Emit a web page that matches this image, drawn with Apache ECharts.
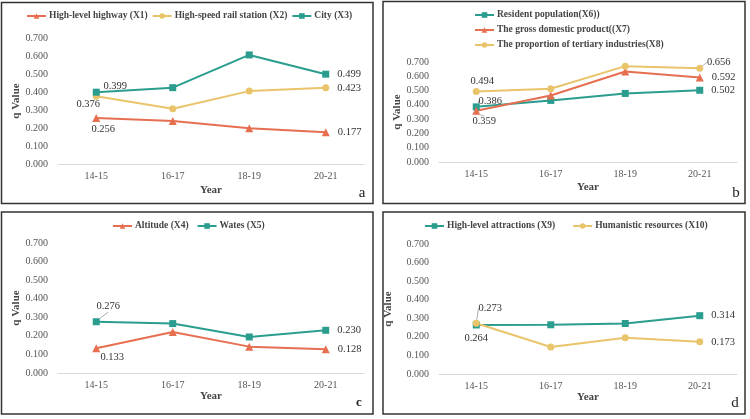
<!DOCTYPE html>
<html><head><meta charset="utf-8">
<script src="https://cdn.jsdelivr.net/npm/echarts@6/dist/echarts.min.js"></script>
<style>html,body{margin:0;padding:0;background:#fff}#c{width:750px;height:419px}</style>
</head><body><div id="c"></div>
<script>
const years = ['14-15','16-17','18-19','20-21'];
const yTicks = [0, 0.1, 0.2, 0.3, 0.4, 0.5, 0.6, 0.7];
// panel a
const x1 = [0.256, 0.239, 0.198, 0.177];
const x2 = [0.376, 0.307, 0.405, 0.423];
const x3 = [0.399, 0.424, 0.606, 0.499];
// panel b
const x6 = [0.386, 0.431, 0.480, 0.502];
const x7 = [0.359, 0.466, 0.634, 0.592];
const x8 = [0.494, 0.513, 0.671, 0.656];
// panel c
const x4 = [0.133, 0.221, 0.142, 0.128];
const x5 = [0.276, 0.266, 0.194, 0.230];
// panel d
const x9 = [0.264, 0.265, 0.272, 0.314];
const x10 = [0.273, 0.145, 0.195, 0.173];

const RED = '#E76F51', YEL = '#E9C46A', TEAL = '#2A9D8F';
const FONT = 'Liberation Serif';

const grids = [
  {left: 58, width: 306, top: 38, height: 126},
  {left: 439, width: 298, top: 62, height: 100},
  {left: 58, width: 306, top: 243, height: 130},
  {left: 439, width: 298, top: 244, height: 130}
];
const xNameGap = [21, 20, 18, 18];
const yNameGap = [34, 32, 34, 45];

function mkSeries(name, data, color, symbol, gi, firstOff, leader) {
  return {
    type: 'line', name, xAxisIndex: gi, yAxisIndex: gi,
    symbol, symbolSize: symbol === 'triangle' ? 8 : 7,
    lineStyle: {color, width: 2}, itemStyle: {color},
    data: data.map((v, i) => {
      const o = {value: v};
      if (i === 0) {
        o.label = {show: true, position: 'inside', offset: [0,0]};
        o.labelLine = {show: !!leader};
      } else if (i === data.length - 1) {
        o.label = {show: true, position: 'right', distance: 8};
      }
      return o;
    }),
    label: {show: false, formatter: p => p.value.toFixed(3), color: '#333', fontFamily: FONT, fontSize: 10.5},
    labelLine: {show: false, lineStyle: {color: '#999', width: 0.8}},
    labelLayout: p => (p.dataIndex === 0 ? {dx: firstOff[0], dy: firstOff[1]} : {}),
    z: 3
  };
}

const series = [
  mkSeries('High-level highway (X1)', x1, RED, 'triangle', 0, [7, 11]),
  mkSeries('High-speed rail station (X2)', x2, YEL, 'circle', 0, [-8, 8]),
  mkSeries('City (X3)', x3, TEAL, 'rect', 0, [19, -6]),
  mkSeries('Resident population(X6))', x6, TEAL, 'rect', 1, [14, -6], true),
  mkSeries('The gross domestic product((X7)', x7, RED, 'triangle', 1, [8, 11], true),
  mkSeries('The proportion of tertiary industries(X8)', x8, YEL, 'circle', 1, [6, -10]),
  mkSeries('Altitude (X4)', x4, RED, 'triangle', 2, [16, 9]),
  mkSeries('Wates (X5)', x5, TEAL, 'rect', 2, [12, -15], true),
  mkSeries('High-level attractions (X9)', x9, TEAL, 'rect', 3, [0, 13]),
  mkSeries('Humanistic resources (X10)', x10, YEL, 'circle', 3, [14, -15], true)
];
// special: 0.656 leader in b
series[5].data[3].label = {show: true, position: 'inside'};
series[5].data[3].labelLine = {show: true};
series[5].labelLayout = p => (p.dataIndex === 0 ? {dx: 6, dy: -10} : p.dataIndex === 3 ? {dx: 19, dy: -6} : {});

const legendText = {fontFamily: FONT, fontWeight: 'bold', fontSize: 9.5, color: '#444', padding: [0, 0, 0, -2]};
const legends = [
  {data: ['High-level highway (X1)','High-speed rail station (X2)','City (X3)'], left: 26, top: 11, itemGap: 4},
  {data: ['Resident population(X6))','The gross domestic product((X7)','The proportion of tertiary industries(X8)'], left: 474, top: 10, orient: 'vertical', itemGap: 5},
  {data: ['Altitude (X4)','Wates (X5)'], left: 112, top: 221, itemGap: 8},
  {data: ['High-level attractions (X9)','Humanistic resources (X10)'], left: 424, top: 221, itemGap: 17}
].map(l => Object.assign({itemWidth: 19, itemHeight: 7, textStyle: legendText, padding: 0}, l));

const option = {
  animation: false,
  backgroundColor: '#fff',
  grid: grids,
  legend: legends,
  xAxis: grids.map((g, i) => ({
    type: 'category', gridIndex: i, data: years, boundaryGap: true,
    name: 'Year', nameLocation: 'middle', nameGap: xNameGap[i],
    nameTextStyle: {fontFamily: FONT, fontWeight: 'bold', fontSize: 11, color: '#444'},
    axisLine: {lineStyle: {color: '#d9d9d9'}}, axisTick: {show: false},
    axisLabel: {fontFamily: FONT, fontSize: 10, color: '#555', margin: 7}
  })),
  yAxis: grids.map((g, i) => ({
    type: 'value', gridIndex: i, min: yTicks[0], max: yTicks[yTicks.length-1], interval: 0.1,
    name: 'q Value', nameLocation: 'middle', nameGap: yNameGap[i], nameRotate: 90,
    nameTextStyle: {fontFamily: FONT, fontWeight: 'bold', fontSize: 11, color: '#444'},
    axisLine: {show: false}, axisTick: {show: false}, splitLine: {show: false},
    axisLabel: {fontFamily: FONT, fontSize: 10, color: '#555', margin: 10, formatter: v => v.toFixed(3)}
  })),
  series,
  graphic: [
    {type: 'rect', shape: {x: 1.5, y: 2.5, width: 371.5, height: 201}, style: {fill: 'none', stroke: '#333', lineWidth: 1.5}},
    {type: 'rect', shape: {x: 383, y: 1.5, width: 362, height: 202}, style: {fill: 'none', stroke: '#333', lineWidth: 1.5}},
    {type: 'rect', shape: {x: 1.5, y: 212, width: 371.5, height: 202}, style: {fill: 'none', stroke: '#333', lineWidth: 1.5}},
    {type: 'rect', shape: {x: 383, y: 212, width: 362, height: 202}, style: {fill: 'none', stroke: '#333', lineWidth: 1.5}},
    {type: 'text', x: 362, y: 193, style: {text: 'a', font: '15px "Liberation Serif"', fill: '#222', align: 'center', verticalAlign: 'middle'}},
    {type: 'text', x: 736, y: 193, style: {text: 'b', font: '15px "Liberation Serif"', fill: '#222', align: 'center', verticalAlign: 'middle'}},
    {type: 'text', x: 359, y: 403, style: {text: 'c', font: 'bold 13px "Liberation Serif"', fill: '#222', align: 'center', verticalAlign: 'middle'}},
    {type: 'text', x: 735, y: 403, style: {text: 'd', font: '15px "Liberation Serif"', fill: '#222', align: 'center', verticalAlign: 'middle'}}
  ]
};
const chart = echarts.init(document.getElementById('c'), null, {renderer: 'canvas'});
chart.setOption(option);
</script></body></html>
